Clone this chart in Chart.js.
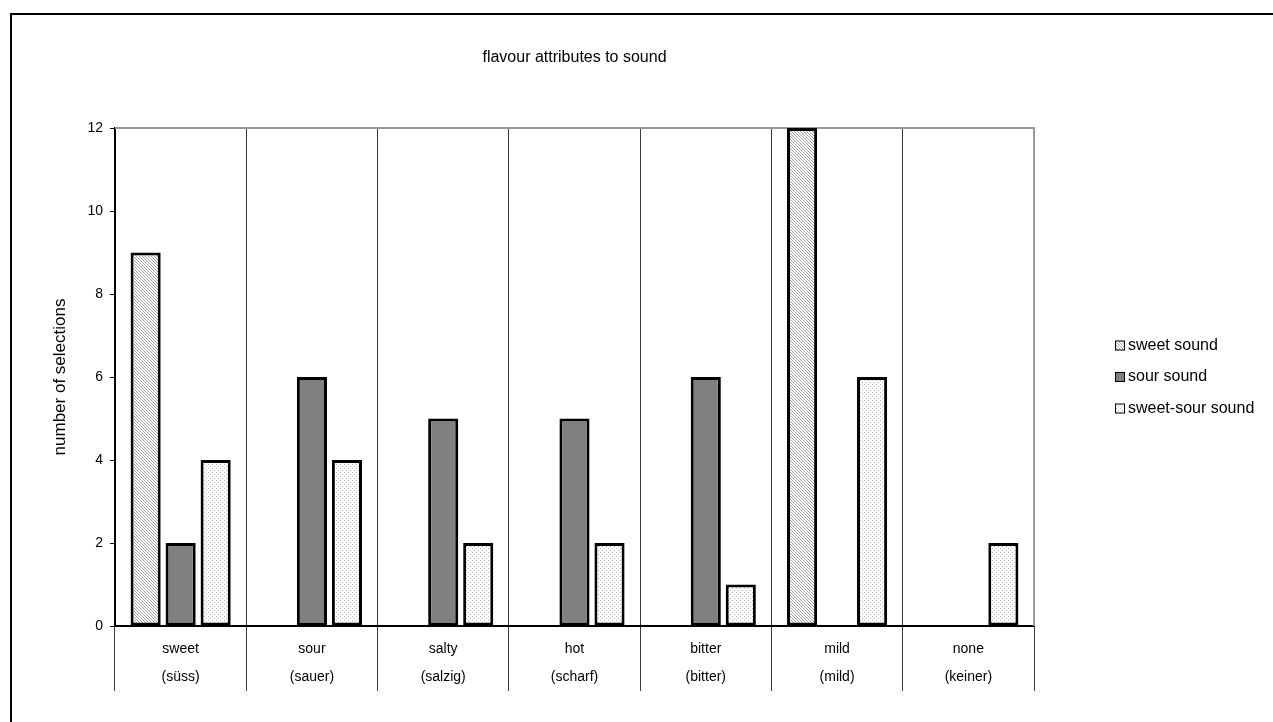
<!DOCTYPE html>
<html>
<head>
<meta charset="utf-8">
<title>flavour attributes to sound</title>
<script src="https://cdn.jsdelivr.net/npm/chart.js@4.4.1/dist/chart.umd.min.js"></script>
<style>
  html, body { margin: 0; padding: 0; background: #fff; }
  canvas { display: block; }
</style>
</head>
<body>
<canvas id="flavourChart" width="1273" height="722"></canvas>
<script>
const CATEGORIES = [['sweet', '(süss)'], ['sour', '(sauer)'], ['salty', '(salzig)'], ['hot', '(scharf)'], ['bitter', '(bitter)'], ['mild', '(mild)'], ['none', '(keiner)']];
const SWEET_SOUND = [9, 0, 0, 0, 0, 12, 0];
const SOUR_SOUND = [2, 6, 5, 5, 6, 0, 0];
const SWEET_SOUR_SOUND = [4, 4, 2, 2, 1, 6, 2];
const SERIES_NAMES = ['sweet sound', 'sour sound', 'sweet-sour sound'];
const Y_MIN = 0, Y_MAX = 12, Y_STEP = 2;

const FONT = 'Liberation Sans, Arial, sans-serif';

function makePattern(draw, size) {
    const c = document.createElement('canvas');
    c.width = size; c.height = size;
    const ctx = c.getContext('2d');
    ctx.fillStyle = '#fff';
    ctx.fillRect(0, 0, size, size);
    draw(ctx);
    return c.getContext('2d').createPattern(c, 'repeat');
}

// fine diagonal hatch for the sweet sound bars
const hatch = makePattern(ctx => {
    for (let i = 0; i < 3; i++) {
        ctx.fillStyle = '#a0a0a0'; ctx.fillRect(i, i, 1, 1);
    }
}, 3);

// sparse dots for sweet-sour
const dots = makePattern(ctx => {
    ctx.fillStyle = '#b4b4b4';
    ctx.fillRect(0, 0, 1, 1);
    ctx.fillRect(2, 2, 1, 1);
}, 4);

const fills = [hatch, '#808080', dots];

const framePlugin = {
    id: 'frame',
    beforeDraw(chart) {
        const ctx = chart.ctx;
        ctx.save();
        ctx.fillStyle = '#fff';
        ctx.fillRect(0, 0, chart.width, chart.height);
        ctx.strokeStyle = '#000';
        ctx.lineWidth = 2;
        ctx.strokeRect(11, 14, chart.width + 20, chart.height + 20);
        ctx.restore();
    },
    beforeDatasetsDraw(chart) {
        const { ctx, chartArea: a } = chart;
        ctx.save();
        ctx.strokeStyle = '#999';
        ctx.lineWidth = 2;
        ctx.beginPath();
        ctx.moveTo(a.left, a.top);
        ctx.lineTo(a.right, a.top);
        ctx.lineTo(a.right, a.bottom);
        ctx.stroke();
        ctx.restore();
    },
    afterDraw(chart) {
        const { ctx, chartArea: a } = chart;
        const mid = (a.top + a.bottom) / 2;
        ctx.save();
        ctx.font = '16px ' + FONT;
        ctx.textBaseline = 'middle';
        chart.data.datasets.forEach((ds, i) => {
            const y = mid + (i - 1) * 31.5;
            const x = a.right + 81;
            ctx.fillStyle = ds.backgroundColor;
            ctx.fillRect(x, y - 5, 10, 10);
            ctx.strokeStyle = '#000';
            ctx.lineWidth = 1;
            ctx.strokeRect(x + 0.5, y - 4.5, 9, 9);
            ctx.fillStyle = '#000';
            ctx.fillText(ds.label, x + 13, y);
        });
        ctx.restore();
    }
};

new Chart(document.getElementById('flavourChart'), {
    type: 'bar',
    data: {
        labels: CATEGORIES,
        datasets: [SWEET_SOUND, SOUR_SOUND, SWEET_SOUR_SOUND].map((d, i) => ({
            label: SERIES_NAMES[i],
            data: d,
            backgroundColor: fills[i],
            borderColor: '#000',
            borderWidth: 3,
            borderSkipped: false,
            categoryPercentage: 0.8,
            barPercentage: 0.86
        }))
    },
    options: {
        responsive: false,
        animation: false,
        layout: { padding: { left: 0, top: 0, right: 239, bottom: 0 } },
        plugins: {
            legend: { display: false },
            tooltip: { enabled: false },
            title: {
                display: true,
                fullSize: false,
                text: 'flavour attributes to sound',
                color: '#000',
                font: { family: FONT, size: 16, weight: 'normal' },
                padding: { top: 48, bottom: 60.8 }
            }
        },
        scales: {
            x: {
                offset: true,
                grid: { offset: true, color: '#3c3c3c', lineWidth: 1, tickLength: 65, drawOnChartArea: true },
                border: { color: '#000', width: 2 },
                ticks: {
                    color: '#000',
                    font: { family: FONT, size: 14, lineHeight: 28 / 14 },
                    padding: -56,
                    maxRotation: 0,
                    autoSkip: false
                },
                afterFit(scale) { scale.height = 96; }
            },
            y: {
                min: Y_MIN,
                max: Y_MAX,
                grid: { drawOnChartArea: false, drawTicks: true, tickLength: 5, color: '#000' },
                border: { color: '#000', width: 2 },
                ticks: {
                    stepSize: Y_STEP,
                    color: '#000',
                    padding: 7,
                    font: { family: FONT, size: 14 }
                },
                title: {
                    display: true,
                    text: 'number of selections',
                    color: '#000',
                    font: { family: FONT, size: 17 },
                    padding: { top: 50, bottom: 0 }
                },
                afterFit(scale) { scale.width = 115; }
            }
        }
    },
    plugins: [framePlugin]
});
</script>
</body>
</html>
